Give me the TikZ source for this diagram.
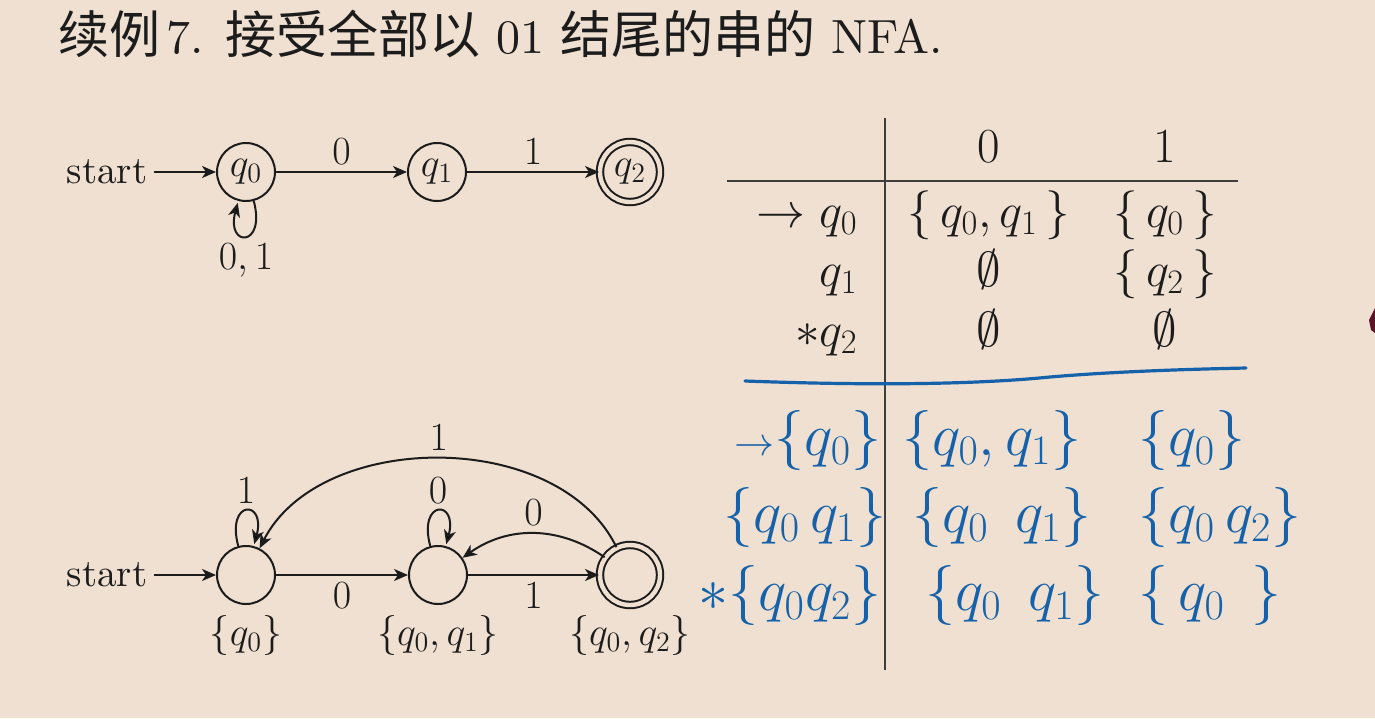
\RequirePackage{fix-cm}
\documentclass[tikz,border=0pt]{standalone}
\usepackage{fontspec}
\setmainfont{lmroman10-regular}[Extension=.otf,ItalicFont=lmroman10-italic,BoldFont=lmroman10-bold]
\newfontfamily\cjk{Noto Sans CJK SC}
\usetikzlibrary{automata,arrows.meta,positioning}
\definecolor{bg}{RGB}{239,224,209}
\definecolor{ink}{RGB}{28,28,28}
\definecolor{pen}{RGB}{22,98,170}
\definecolor{edgemark}{RGB}{90,20,40}
\newcommand{\cjkt}[1]{{\cjk\fontsize{25.5}{30}\selectfont #1}}
\tikzset{
  autofont/.style={font=\fontsize{20}{24}\selectfont},
  stateA/.style={circle,draw=ink,line width=1pt,minimum size=29pt,inner sep=0pt,autofont,text=ink},
  acceptA/.style={stateA,double=bg,double distance=2.2pt,minimum size=30pt},
  txt/.style={autofont,text=ink},
  edgeA/.style={->,draw=ink,line width=1pt},
  tabfont/.style={font=\fontsize{24.5}{29}\selectfont,text=ink,inner sep=0pt},
  tline/.style={draw=ink!85,line width=1.1pt},
  handtxt/.style={font=\fontsize{30}{35}\selectfont,text=pen,inner sep=0pt},
  handline/.style={draw=pen,line width=1.6pt,line cap=round},
  >={Stealth[length=7pt,width=6pt,inset=2pt]}
}
\begin{document}
\begin{tikzpicture}[x=0.5pt,y=0.5pt]
\fill[bg] (0,0) rectangle (1375,-718);
\useasboundingbox (0,0) rectangle (1375,-718);

% title
\node[anchor=base west,inner sep=0pt,text=ink] (title) at (58,-53)
  {\fontsize{24}{28}\selectfont\cjkt{续例}\hspace{3pt}7. \cjkt{接受全部以} 01 \cjkt{结尾的串的} NFA.};

% top NFA
\node[txt,font=\fontsize{19.5}{23}\selectfont] (st1) at (107,-172) {start};
\node[stateA] (q0) at (246,-172) {$q_0$};
\node[stateA] (q1) at (437,-172) {$q_1$};
\node[acceptA] (q2) at (630,-172) {$q_2$};
\draw[edgeA] (st1) -- (q0);
\draw[edgeA] (q0) -- node[txt,above] (l01) {$0$} (q1);
\draw[edgeA] (q1) -- node[txt,above] (l12) {$1$} (q2);
\path[edgeA] (q0) edge[loop below] node[txt,below] (l00) {$0,1$} ();

% bottom DFA
\node[txt,font=\fontsize{19.5}{23}\selectfont] (st2) at (107,-575) {start};
\node[stateA] (A) at (246,-575) {};
\node[stateA] (B) at (438,-575) {};
\node[acceptA] (C) at (630,-575) {};
\draw[edgeA] (st2) -- (A);
\draw[edgeA] (A) -- node[txt,below] (lab) {$0$} (B);
\draw[edgeA] (B) -- node[txt,below] (lbc) {$1$} (C);
\path[edgeA] (A) edge[loop above] node[txt,above] (laa) {$1$} ();
\path[edgeA] (B) edge[loop above] node[txt,above] (lbb) {$0$} ();
\draw[edgeA] (C) to[bend right=35] node[txt,above] (lcb) {$0$} (B);
\draw[edgeA] (C) to[out=116,in=63,looseness=0.95] node[txt,above] (lca) {$1$} (A);
\node[txt] (nA) at (246,-635) {$\{q_0\}$};
\node[txt] (nB) at (438,-635) {$\{q_0, q_1\}$};
\node[txt] (nC) at (630,-635) {$\{q_0, q_2\}$};

% table
\draw[tline] (885,-118) -- (885,-670);
\draw[tline] (727,-181) -- (1238,-181);
\node[tabfont,anchor=base] (h0) at (989,-162) {$0$};
\node[tabfont,anchor=base] (h1) at (1165,-162) {$1$};
\node[tabfont,anchor=base east] (r1) at (858,-227) {$\rightarrow q_0$};
\node[tabfont,anchor=base east] (r2) at (858,-286) {$q_1$};
\node[tabfont,anchor=base east] (r3) at (858,-346) {$*q_2$};
\node[tabfont,anchor=base] (c10) at (989,-227) {$\{\,q_0, q_1\,\}$};
\node[tabfont,anchor=base] (c11) at (1165,-227) {$\{\,q_0\,\}$};
\node[tabfont,anchor=base] (c20) at (989,-286) {$\emptyset$};
\node[tabfont,anchor=base] (c21) at (1165,-286) {$\{\,q_2\,\}$};
\node[tabfont,anchor=base] (c30) at (989,-346) {$\emptyset$};
\node[tabfont,anchor=base] (c31) at (1165,-346) {$\emptyset$};

% handwritten part
\draw[handline] (745,-381) .. controls (880,-386) and (980,-384) .. (1050,-377)
  .. controls (1120,-371) and (1200,-369) .. (1246,-368);
\node[handtxt] (b10) at (808,-440) {{\fontsize{20}{24}\selectfont$\rightarrow$}$\{q_0\}$};
\node[handtxt] (b11) at (992,-440) {$\{q_0, q_1\}$};
\node[handtxt] (b12) at (1192,-440) {$\{q_0\}$};
\node[handtxt] (b20) at (805,-517) {$\{q_0\, q_1\}$};
\node[handtxt] (b21) at (1002,-517) {$\{q_0\;\, q_1\}$};
\node[handtxt] (b22) at (1220,-517) {$\{q_0\, q_2\}$};
\node[handtxt] (b30) at (790,-595) {$*\{q_0 q_2\}$};
\node[handtxt] (b31) at (1015,-595) {$\{q_0\;\, q_1\}$};
\node[handtxt] (b32) at (1210,-595) {$\{\,q_0\;\,\}$};

% edge mark
\fill[edgemark] (1369,-320) -- (1375,-308) -- (1375,-333) -- (1371,-330) -- cycle;
\end{tikzpicture}
\end{document}
